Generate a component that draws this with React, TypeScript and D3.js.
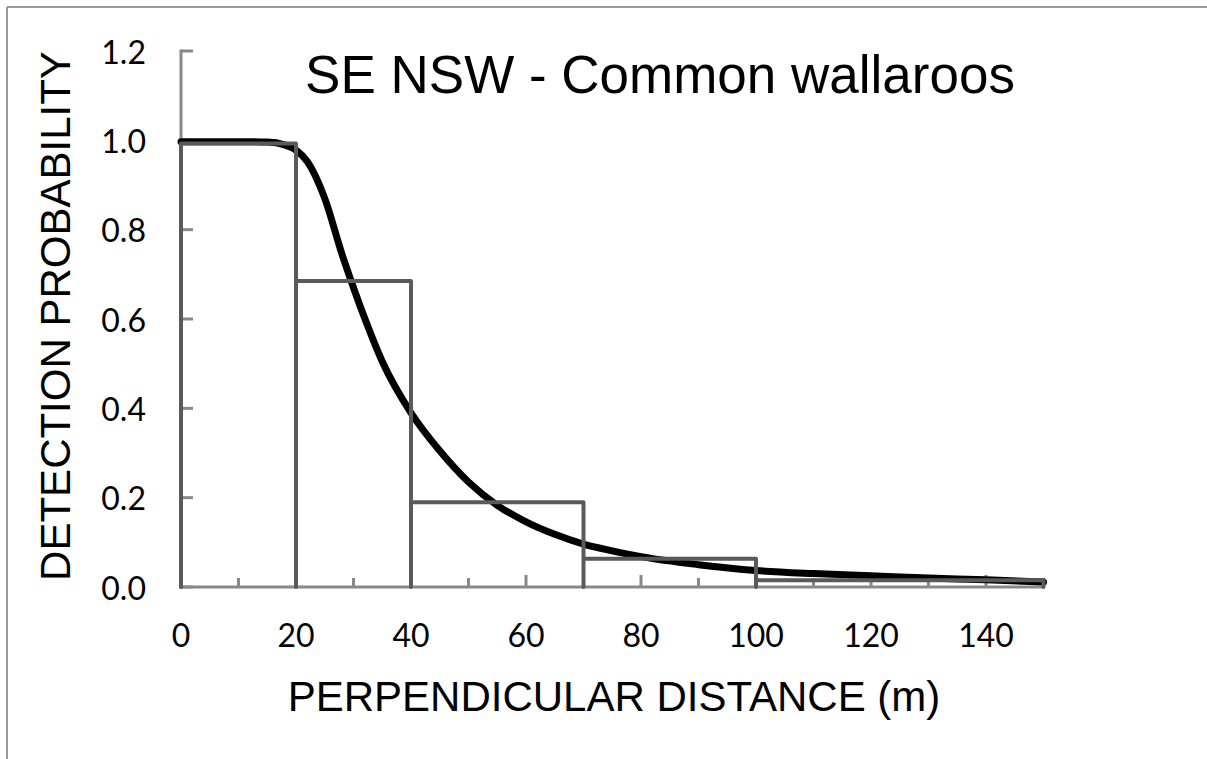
import React from "react";
import * as d3 from "d3";

const TITLE = "SE NSW - Common wallaroos";
const X_LABEL = "PERPENDICULAR DISTANCE (m)";
const Y_LABEL = "DETECTION PROBABILITY";

const xTicks = [0, 20, 40, 60, 80, 100, 120, 140];
const xMinorTicks = [10, 30, 50, 70, 90, 110, 130, 150];
const yTicks = [0, 0.2, 0.4, 0.6, 0.8, 1.0, 1.2];

// histogram bins: start, end, scaled frequency
const binStart = [0, 20, 40, 70, 100];
const binEnd = [20, 40, 70, 100, 150];
const binHeight = [0.993, 0.685, 0.19, 0.063, 0.015];

// fitted detection function
const curveX = [0, 10, 15, 18, 20, 22, 25, 28, 30, 32, 35, 40, 45, 50, 55, 60, 65, 70, 75, 80, 90, 100, 110, 120, 130, 140, 150];
const curveY = [0.997, 0.997, 0.996, 0.99, 0.978, 0.952, 0.87, 0.745, 0.67, 0.6, 0.505, 0.39, 0.305, 0.235, 0.183, 0.146, 0.118, 0.096, 0.081, 0.068, 0.05, 0.037, 0.03, 0.025, 0.02, 0.016, 0.011];

export default function App() {
  const W = 1207, H = 759;
  const x = d3.scaleLinear().domain([0, 150]).range([181, 1043.5]);
  const y = d3.scaleLinear().domain([0, 1.2]).range([587, 51]);

  const line = d3
    .line<number>()
    .x((_, i) => x(curveX[i]))
    .y((d) => y(d))
    .curve(d3.curveMonotoneX);

  const histPath = binStart
    .map((s, i) => `M${x(s)},${y(0)}V${y(binHeight[i])}H${x(binEnd[i])}V${y(0)}`)
    .join("");

  const axisColor = "#898989";
  const barColor = "#5a5a5a";
  const tickFont = "Lato, 'Open Sans', sans-serif";
  const labelFont = "'Liberation Sans', Arial, sans-serif";

  return (
    <svg width={W} height={H} style={{ position: "absolute", left: 0, top: 0, background: "#fff" }}>
      {/* outer border (top and left visible) */}
      <line x1={7} y1={7} x2={W} y2={7} stroke="#999" strokeWidth={2} />
      <line x1={7} y1={7} x2={7} y2={H} stroke="#999" strokeWidth={2} />

      {/* axes */}
      <g stroke={axisColor} strokeWidth={3} strokeLinecap="butt">
        <line x1={x(0)} y1={y(0)} x2={x(150)} y2={y(0)} />
        <line x1={x(0)} y1={y(0) + 1.5} x2={x(0)} y2={y(1.2) - 1.5} />
        {yTicks.map((t) => (
          <line key={"yt" + t} x1={x(0)} y1={y(t)} x2={x(0) + 12} y2={y(t)} />
        ))}
        {xTicks.map((t) => (
          <line key={"xt" + t} x1={x(t)} y1={y(0)} x2={x(t)} y2={y(0) - 12} />
        ))}
        {xMinorTicks.map((t) => (
          <line key={"xm" + t} x1={x(t)} y1={y(0)} x2={x(t)} y2={y(0) - 9} />
        ))}
      </g>

      {/* fitted curve */}
      <path d={line(curveY) || ""} fill="none" stroke="#000" strokeWidth={7} strokeLinecap="round" strokeLinejoin="round" />

      {/* histogram */}
      <path d={histPath} fill="none" stroke={barColor} strokeWidth={4} strokeLinecap="round" strokeLinejoin="round" />

      {/* tick labels */}
      <g fontFamily={tickFont} fontSize={32} fill="#000">
        {yTicks.map((t) => (
          <text key={"yl" + t} x={146} y={y(t)} textAnchor="end" dominantBaseline="central">
            {t.toFixed(1)}
          </text>
        ))}
        {xTicks.map((t) => (
          <text key={"xl" + t} x={x(t)} y={647} textAnchor="middle">
            {t}
          </text>
        ))}
      </g>

      {/* title and axis titles */}
      <text x={660} y={93} textAnchor="middle" fontFamily={labelFont} fontSize={53} fill="#000">
        {TITLE}
      </text>
      <text x={614} y={711} textAnchor="middle" fontFamily={labelFont} fontSize={42} fill="#000">
        {X_LABEL}
      </text>
      <text
        transform={`translate(70,316) rotate(-90)`}
        textAnchor="middle"
        fontFamily={labelFont}
        fontSize={42}
        fill="#000"
      >
        {Y_LABEL}
      </text>
    </svg>
  );
}
